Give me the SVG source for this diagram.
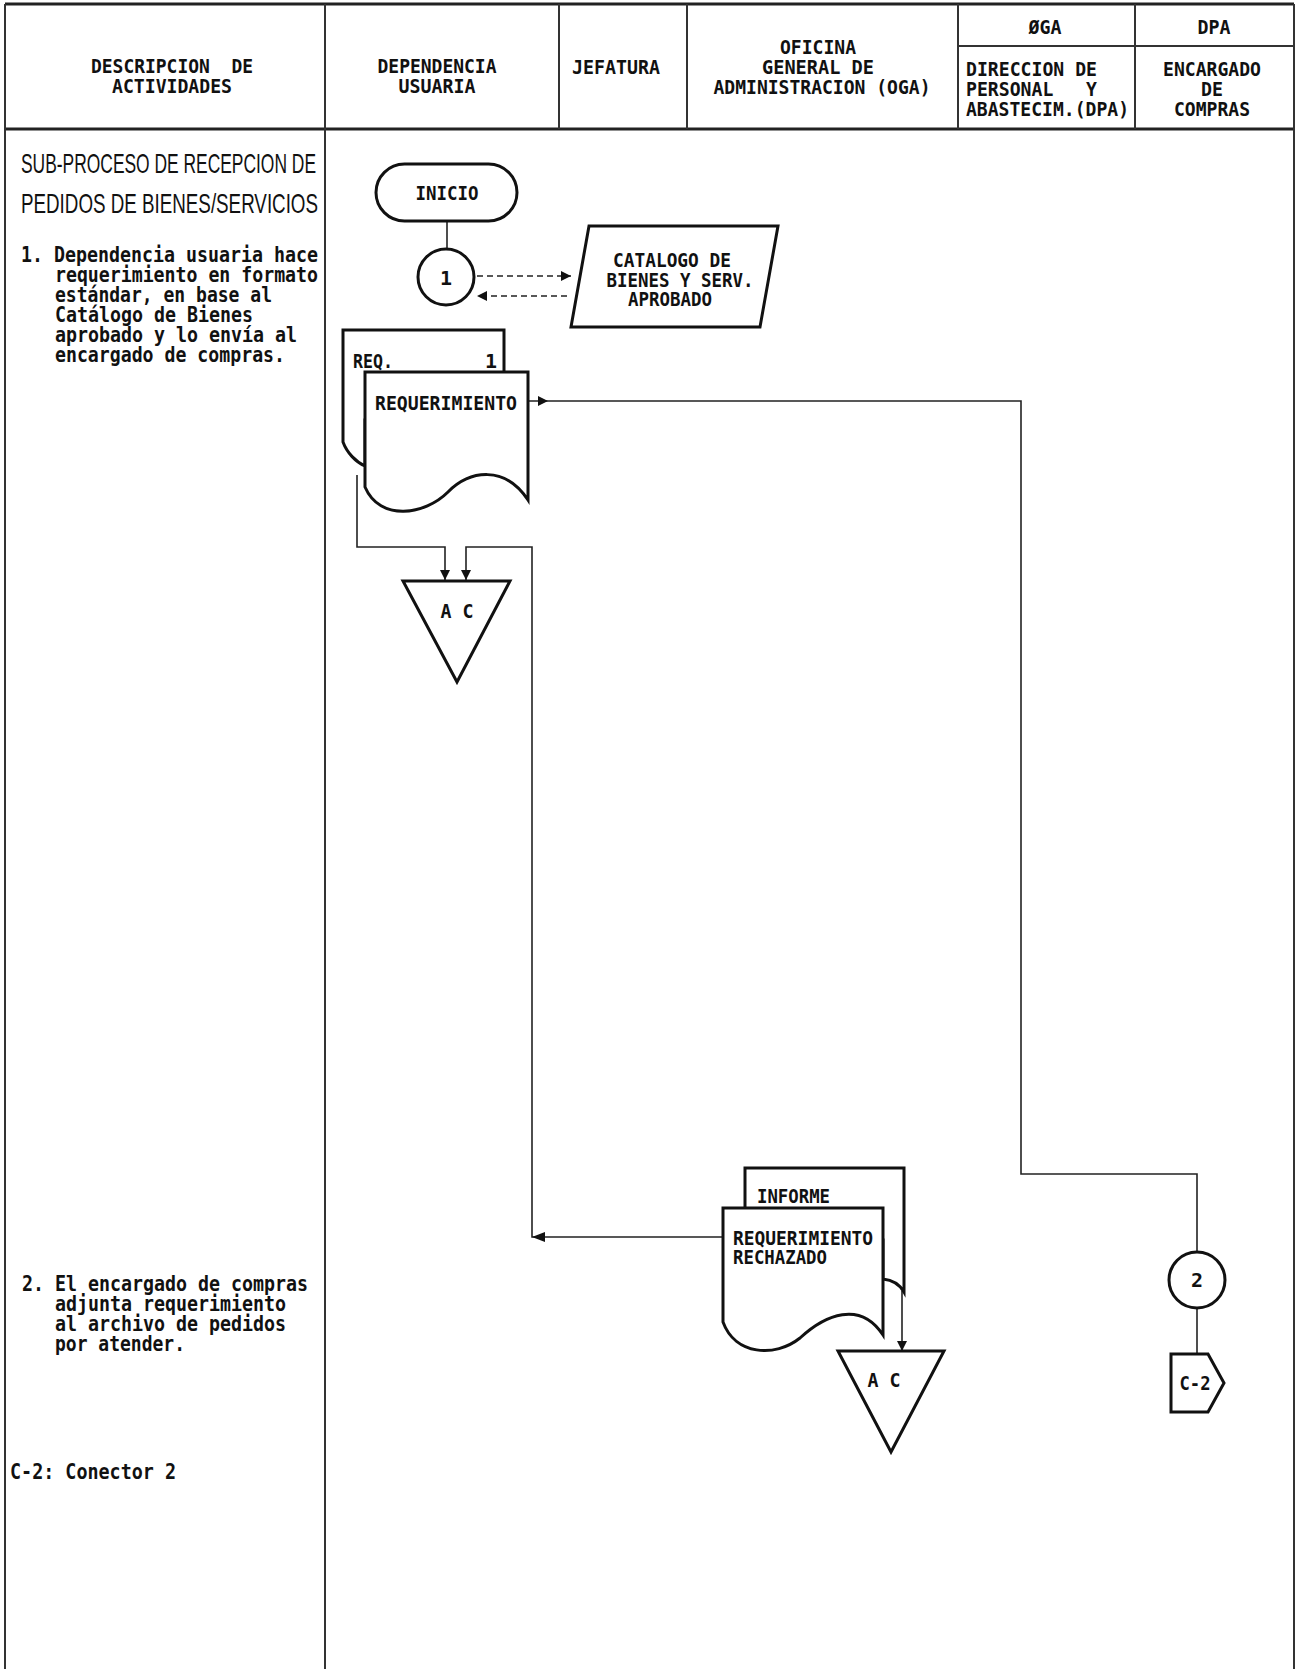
<svg xmlns="http://www.w3.org/2000/svg" width="1298" height="1669" viewBox="0 0 1298 1669">
<style>
.t{font-family:"DejaVu Sans Mono","Liberation Mono",monospace;font-weight:bold;font-size:20px;fill:#111;white-space:pre}
.d{font-family:"DejaVu Sans Mono","Liberation Mono",monospace;font-weight:bold;font-size:21px;fill:#111}
.ttl{font-family:"Liberation Sans","DejaVu Sans",sans-serif;font-size:28px;fill:#111}
.m{text-anchor:middle}
.grid{stroke:#333;stroke-width:2;fill:none}
.gridh{stroke:#222;stroke-width:3;fill:none}
.shape{stroke:#111;stroke-width:3;fill:#fff}
.conn{stroke:#222;stroke-width:1.6;fill:none}
.dash{stroke-dasharray:6 4}
.ah{fill:#111}
</style>
<defs>
<marker id="arr" markerUnits="userSpaceOnUse" markerWidth="10" markerHeight="10" refX="10" refY="5" orient="auto">
<path d="M0,0 L10,5 L0,10 Z" fill="#111"/>
</marker>
</defs>
<rect width="1298" height="1669" fill="#fff"/>

<g id="grid">
<line class="gridh" x1="5" y1="4" x2="1294" y2="4"/>
<line class="gridh" x1="5" y1="129" x2="1294" y2="129"/>
<line class="grid" x1="958" y1="46" x2="1294" y2="46"/>
<line class="grid" x1="5" y1="4" x2="5" y2="1669"/>
<line class="grid" x1="325" y1="4" x2="325" y2="1669"/>
<line class="grid" x1="1294" y1="4" x2="1294" y2="1669"/>
<line class="grid" x1="559" y1="4" x2="559" y2="129"/>
<line class="grid" x1="687" y1="4" x2="687" y2="129"/>
<line class="grid" x1="958" y1="4" x2="958" y2="129"/>
<line class="grid" x1="1135" y1="4" x2="1135" y2="129"/>
</g>

<g id="header">
<text class="t m" x="172" y="73" xml:space="preserve" textLength="162" lengthAdjust="spacingAndGlyphs">DESCRIPCION  DE</text>
<text class="t m" x="172" y="93" textLength="120" lengthAdjust="spacingAndGlyphs">ACTIVIDADES</text>
<text class="t m" x="437" y="73" textLength="119" lengthAdjust="spacingAndGlyphs">DEPENDENCIA</text>
<text class="t m" x="437" y="93" textLength="77" lengthAdjust="spacingAndGlyphs">USUARIA</text>
<text class="t m" x="616" y="74" textLength="88" lengthAdjust="spacingAndGlyphs">JEFATURA</text>
<text class="t m" x="818" y="54" textLength="76" lengthAdjust="spacingAndGlyphs">OFICINA</text>
<text class="t m" x="818" y="74" textLength="112" lengthAdjust="spacingAndGlyphs">GENERAL DE</text>
<text class="t m" x="822" y="94" textLength="217" lengthAdjust="spacingAndGlyphs">ADMINISTRACION (OGA)</text>
<text class="t m" x="1045" y="34" textLength="33" lengthAdjust="spacingAndGlyphs">ØGA</text>
<text class="t m" x="1214" y="34" textLength="33" lengthAdjust="spacingAndGlyphs">DPA</text>
<text class="t" x="966" y="76" textLength="131" lengthAdjust="spacingAndGlyphs">DIRECCION DE</text>
<text class="t" x="966" y="96" xml:space="preserve" textLength="131" lengthAdjust="spacingAndGlyphs">PERSONAL   Y</text>
<text class="t" x="966" y="116" textLength="163" lengthAdjust="spacingAndGlyphs">ABASTECIM.(DPA)</text>
<text class="t m" x="1212" y="76" textLength="98" lengthAdjust="spacingAndGlyphs">ENCARGADO</text>
<text class="t m" x="1212" y="96" textLength="22" lengthAdjust="spacingAndGlyphs">DE</text>
<text class="t m" x="1212" y="116" textLength="76" lengthAdjust="spacingAndGlyphs">COMPRAS</text>
</g>

<g id="descripcion">
<text class="ttl" x="21" y="173" textLength="295" lengthAdjust="spacingAndGlyphs">SUB-PROCESO DE RECEPCION DE</text>
<text class="ttl" x="21" y="213" textLength="297" lengthAdjust="spacingAndGlyphs">PEDIDOS DE BIENES/SERVICIOS</text>
<text class="d" x="21" y="262" textLength="297" lengthAdjust="spacingAndGlyphs">1. Dependencia usuaria hace</text>
<text class="d" x="55" y="282" textLength="263" lengthAdjust="spacingAndGlyphs">requerimiento en formato</text>
<text class="d" x="55" y="302" textLength="217" lengthAdjust="spacingAndGlyphs">estándar, en base al</text>
<text class="d" x="55" y="322" textLength="198" lengthAdjust="spacingAndGlyphs">Catálogo de Bienes</text>
<text class="d" x="55" y="342" textLength="242" lengthAdjust="spacingAndGlyphs">aprobado y lo envía al</text>
<text class="d" x="55" y="362" textLength="230" lengthAdjust="spacingAndGlyphs">encargado de compras.</text>
<text class="d" x="22" y="1291" textLength="286" lengthAdjust="spacingAndGlyphs">2. El encargado de compras</text>
<text class="d" x="55" y="1311" textLength="231" lengthAdjust="spacingAndGlyphs">adjunta requerimiento</text>
<text class="d" x="55" y="1331" textLength="231" lengthAdjust="spacingAndGlyphs">al archivo de pedidos</text>
<text class="d" x="55" y="1351" textLength="130" lengthAdjust="spacingAndGlyphs">por atender.</text>
<text class="d" x="10" y="1479" textLength="166" lengthAdjust="spacingAndGlyphs">C-2: Conector 2</text>
</g>

<g id="connectors">
<line class="conn" x1="447" y1="221" x2="447" y2="248"/>
<line class="conn dash" x1="477" y1="276" x2="571" y2="276" marker-end="url(#arr)"/>
<line class="conn dash" x1="567" y1="296" x2="477" y2="296" marker-end="url(#arr)"/>
<path class="conn" d="M528,401 H1021 V1174 H1197 V1252"/>
<polygon class="ah" points="538,396 548,401 538,406"/>
<path class="conn" d="M357,475 V547 H445 V580" marker-end="url(#arr)"/>
<path class="conn" d="M723,1237 H532 V547 H466 V580" marker-end="url(#arr)"/>
<polygon class="ah" points="532,1237 545,1232 545,1242"/>
<line class="conn" x1="902" y1="1291" x2="902" y2="1351" marker-end="url(#arr)"/>
<line class="conn" x1="1197" y1="1308" x2="1197" y2="1354"/>
</g>

<g id="inicio">
<rect class="shape" x="376" y="164" width="141" height="57" rx="28.5"/>
<text class="t m" x="447" y="200" textLength="63" lengthAdjust="spacingAndGlyphs">INICIO</text>
</g>

<g id="conector1">
<circle class="shape" cx="446" cy="277" r="28"/>
<text class="t m" x="446" y="285">1</text>
</g>

<g id="catalogo">
<polygon class="shape" points="589,226 778,226 760,327 571,327"/>
<text class="t m" x="672" y="267" textLength="118" lengthAdjust="spacingAndGlyphs">CATALOGO DE</text>
<text class="t m" x="680" y="287" textLength="147" lengthAdjust="spacingAndGlyphs">BIENES Y SERV.</text>
<text class="t m" x="670" y="306" textLength="84" lengthAdjust="spacingAndGlyphs">APROBADO</text>
</g>

<g id="requerimiento">
<path class="shape" d="M343,330 H504 V420 H365 V466 C356,462 347,453 343,442 Z"/>
<text class="t" x="353" y="368" textLength="40" lengthAdjust="spacingAndGlyphs">REQ.</text>
<text class="t" x="485" y="368">1</text>
<path class="shape" d="M365,372 H528 V500 C505,465 470,470 448,492 C425,515 380,522 365,487 Z"/>
<text class="t" x="375" y="410" textLength="142" lengthAdjust="spacingAndGlyphs">REQUERIMIENTO</text>
</g>

<g id="archivo1">
<polygon class="shape" points="403,581 510,581 457,682"/>
<text class="t m" x="457" y="618" xml:space="preserve" textLength="33" lengthAdjust="spacingAndGlyphs">A C</text>
</g>

<g id="informe">
<path class="shape" d="M745,1168 H904 V1292 C900,1285 893,1280 883,1279 V1240 H745 Z"/>
<text class="t" x="757" y="1203" textLength="73" lengthAdjust="spacingAndGlyphs">INFORME</text>
<path class="shape" d="M723,1208 H883 V1335 C860,1300 825,1315 800,1338 C775,1358 735,1355 723,1322 Z"/>
<text class="t" x="733" y="1245" textLength="140" lengthAdjust="spacingAndGlyphs">REQUERIMIENTO</text>
<text class="t" x="733" y="1264" textLength="94" lengthAdjust="spacingAndGlyphs">RECHAZADO</text>
</g>

<g id="archivo2">
<polygon class="shape" points="838,1351 944,1351 891,1452"/>
<text class="t m" x="884" y="1387" xml:space="preserve" textLength="33" lengthAdjust="spacingAndGlyphs">A C</text>
</g>

<g id="conector2">
<circle class="shape" cx="1197" cy="1280" r="28"/>
<text class="t m" x="1197" y="1287">2</text>
</g>

<g id="c2">
<polygon class="shape" points="1171,1354 1208,1354 1224,1383 1208,1412 1171,1412"/>
<text class="t m" x="1195" y="1390" textLength="31" lengthAdjust="spacingAndGlyphs">C-2</text>
</g>
</svg>
